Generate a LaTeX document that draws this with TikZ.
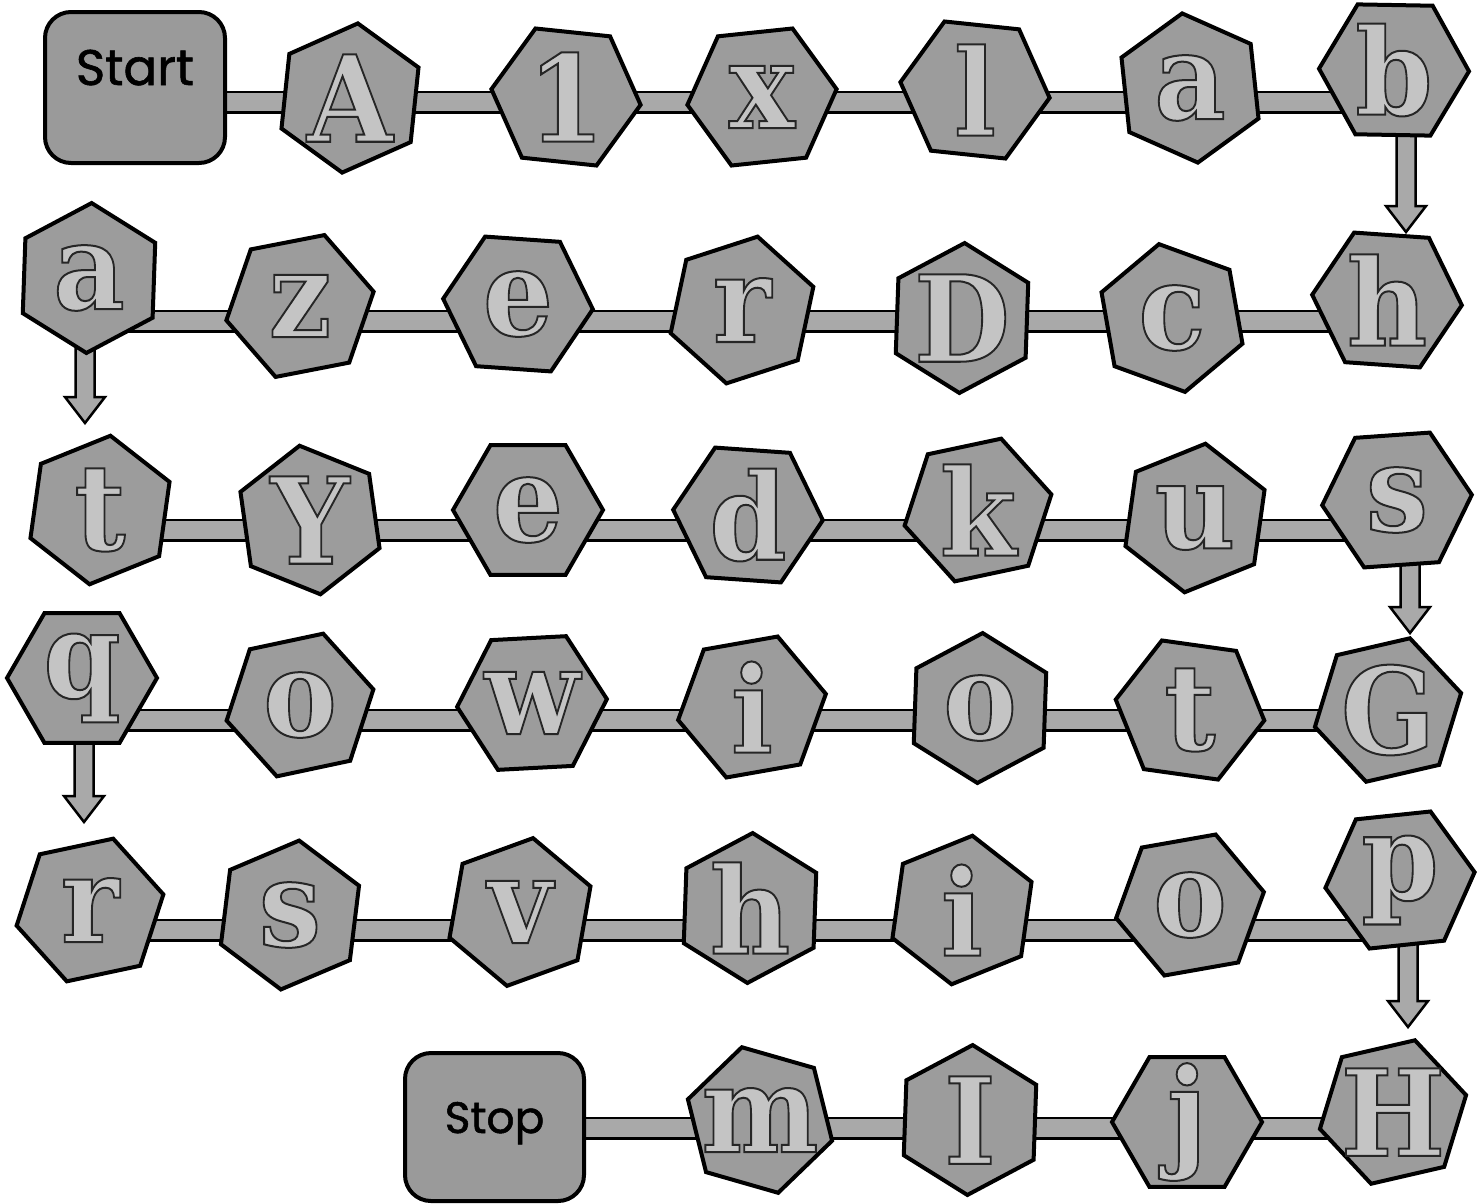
\documentclass[tikz,border=0pt]{standalone}
\usepackage{fontspec}
\newfontfamily\labelfont{Poppins}[FakeBold=1.2]
\newfontfamily\glyphfont{DejaVu Serif}
\usetikzlibrary{shapes.geometric,calc}
\pgfdeclarelayer{back}
\pgfsetlayers{back,main}
\definecolor{hexfill}{HTML}{9C9C9C}
\definecolor{boxfill}{HTML}{9A9A9A}
\definecolor{barfill}{HTML}{A9A9A9}
\definecolor{lfill}{HTML}{C4C4C4}
% light letter face with a dark outline: fill+stroke text rendering
\newcommand\glyph[1]{\textcolor{lfill}{\special{pdf:literal direct q 2 Tr 2 w 0.15 G}#1\special{pdf:literal direct Q}}}
\tikzset{
  hexa/.style={regular polygon, regular polygon sides=6, minimum size=150pt,
    inner sep=0pt, draw=black, line width=4pt, fill=hexfill},
  lettr/.style={inner sep=0pt, xscale=0.92, font=\glyphfont\bfseries\fontsize{120}{120}\selectfont},
  endbox/.style={draw=black, line width=4pt, fill=boxfill, rounded corners=26pt,
    inner sep=0pt, text height=36pt},
  bar/.style={draw=black, line width=2.5pt, double=barfill, double distance=18pt},
  arrowbody/.style={draw=black, line width=2.5pt, fill=barfill}
}
\newcommand\vdart[3]{%
  \draw[arrowbody] let \p1=(#1.center) in
   (#2pt-9.5pt,\y1) -- (#2-9.5,#3-26) -- (#2-20,#3-26) -- (#2,#3)
   -- (#2+20,#3-26) -- (#2+9.5,#3-26) -- (#2pt+9.5pt,\y1) -- cycle;}
\begin{document}
\begin{tikzpicture}[x=1pt,y=-1pt]
\useasboundingbox (0,0) rectangle (1482,1203);
\begin{pgfonlayer}{back}
  \fill[white] (0,0) rectangle (1482,1203);
\end{pgfonlayer}

\node[endbox, minimum width=180pt, minimum height=151pt, text depth=41pt,
  font=\labelfont\fontsize{50}{54}\selectfont] (Start) at (135,87.5) {Start};
\node[endbox, minimum width=179pt, minimum height=148pt, text depth=24pt,
  font=\labelfont\fontsize{44}{48}\selectfont] (Stop) at (494.5,1127) {Stop};

\foreach \n/\x/\y/\r/\l in {
  h1/350/98/24/A, h2/566/97/-6/1, h3/762/97/6/x, h4/975/90/-6/l, h5/1190/88/36/a, h6/1394/70/-1/b,
  h7/89/278/28/a, h8/300/306/11/z, h9/518/304/-4/e, h10/742/310/18/r, h11/962/318/28/D, h12/1172/318/40/c, h13/1387/300/-4/h,
  h14/100/510/22/t, h15/310/520/38/Y, h16/528/510/0/e, h17/748/515/-4/d, h18/978/510/12/k, h19/1195/518/22/u, h20/1397/500/4/s,
  h21/82/678/0/q, h22/300/705/12/o, h23/532/703/3/w, h24/752/707/10/i, h25/980/708/28/o, h26/1190/710/-8/t, h27/1388/710/13/G,
  h28/90/910/12/r, h29/290/915/23/s, h30/520/912/20/v, h31/750/908/28/h, h32/962/910/22/i, h33/1190/905/10/o, h34/1400/880/6/p,
  h35/760/1120/44/m, h36/970/1120/28/I, h37/1187/1122/0/j, h38/1393/1112/13/H}
{
  \node[hexa, rotate=\r] (\n) at (\x,\y) {};
  \node[lettr] (L\n) at (\n.center) {\glyph{\l}};
}

\begin{pgfonlayer}{back}
  \draw[bar] (Start.east |- 0,102) -- (h6 |- 0,102);
  \draw[bar] (h7 |- 0,321) -- (h13 |- 0,321);
  \draw[bar] (h14 |- 0,530) -- (h20 |- 0,530);
  \draw[bar] (h21 |- 0,720) -- (h27 |- 0,720);
  \draw[bar] (h28 |- 0,930) -- (h34 |- 0,930);
  \draw[bar] (Stop.east |- 0,1128) -- (h38 |- 0,1128);
  \vdart{h6}{1406}{232}
  \vdart{h7}{85}{423}
  \vdart{h20}{1410}{633}
  \vdart{h21}{84}{822}
  \vdart{h34}{1408}{1027}
\end{pgfonlayer}
\end{tikzpicture}
\end{document}
